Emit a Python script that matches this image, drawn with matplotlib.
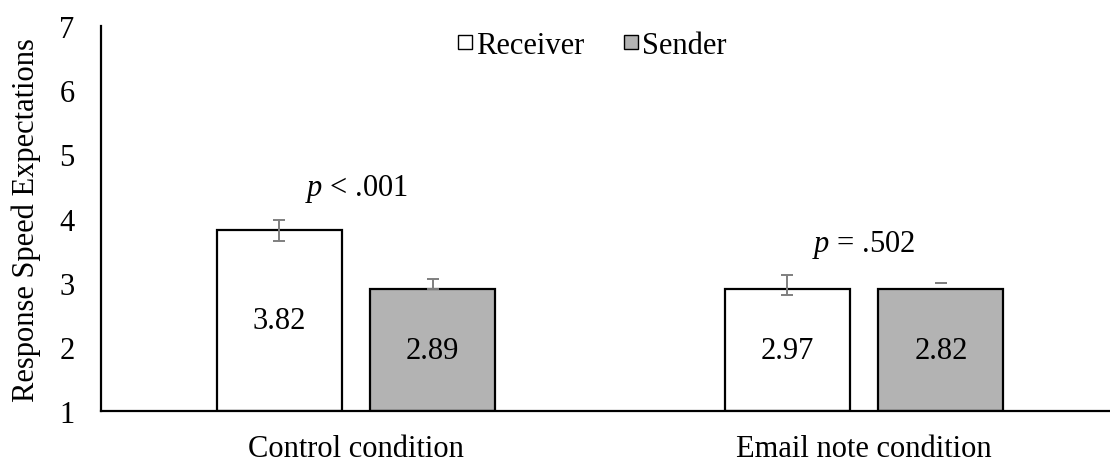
import numpy as np
import matplotlib
matplotlib.use("Agg")
import matplotlib.pyplot as plt
from matplotlib.lines import Line2D

plt.rcParams["font.family"] = ["Liberation Serif", "DejaVu Serif"]
plt.rcParams["mathtext.fontset"] = "custom"
plt.rcParams["mathtext.it"] = "Liberation Serif:italic"
plt.rcParams["mathtext.rm"] = "Liberation Serif"

conditions = ["Control condition", "Email note condition"]
series = ["Receiver", "Sender"]

# bar heights as drawn in the picture, and the printed means
receiver_bar = [3.82, 2.91]
sender_bar = [2.91, 2.91]
receiver_label = ["3.82", "2.97"]
sender_label = ["2.89", "2.82"]

# error bars (centre, lower, upper)
receiver_err_mid = [3.82, 2.97]
receiver_err_lo = [0.16, 0.16]
receiver_err_hi = [0.16, 0.16]
sender_err_mid = [2.91, 3.00]
sender_err_lo = [0.0, 0.0]
sender_err_hi = [0.15, 0.0]

p_texts = [r"$p$ < .001", r"$p$ = .502"]
p_y = [4.47, 3.61]

colors = ["white", "#b3b3b3"]
fs = 22

fig = plt.figure(figsize=(11.1, 4.64), dpi=100)
ax = fig.add_axes([0.091, 0.111, 0.909, 0.831])

x = np.arange(len(conditions))
off = 0.151
w = 0.246

bars_r = ax.bar(x - off, np.array(receiver_bar) - 1, w, bottom=1,
                color=colors[0], edgecolor="black", linewidth=1.6, zorder=2)
bars_s = ax.bar(x + off, np.array(sender_bar) - 1, w, bottom=1,
                color=colors[1], edgecolor="black", linewidth=1.6, zorder=2)

ax.errorbar(x - off, receiver_err_mid, yerr=[receiver_err_lo, receiver_err_hi],
            fmt="none", ecolor="#7f7f7f", elinewidth=1.4, capsize=4,
            capthick=1.4, zorder=3)
ax.errorbar(x + off, sender_err_mid, yerr=[sender_err_lo, sender_err_hi],
            fmt="none", ecolor="#7f7f7f", elinewidth=1.4, capsize=4,
            capthick=1.4, zorder=3)

for b, lab in zip(bars_r, receiver_label):
    ax.text(b.get_x() + b.get_width() / 2, 1 + b.get_height() / 2, lab,
            ha="center", va="center", fontsize=fs, zorder=4)
for b, lab in zip(bars_s, sender_label):
    ax.text(b.get_x() + b.get_width() / 2, 1 + b.get_height() / 2, lab,
            ha="center", va="center", fontsize=fs, zorder=4)

for xi, t, yy in zip(x, p_texts, p_y):
    ax.text(xi, yy, t, ha="center", va="center", fontsize=fs)

ax.set_ylim(1, 7)
ax.set_xlim(-0.502, 1.484)
ax.set_yticks(range(1, 8))
ax.set_xticks(x)
ax.set_xticklabels(conditions)
ax.tick_params(axis="both", length=0, labelsize=fs)
ax.tick_params(axis="y", pad=19)
ax.tick_params(axis="x", pad=16)
ax.set_ylabel("Response Speed Expectations", fontsize=fs, labelpad=13)

for s in ["top", "right"]:
    ax.spines[s].set_visible(False)
for s in ["left", "bottom"]:
    ax.spines[s].set_linewidth(1.6)

handles = [Line2D([], [], linestyle="none", marker="s", markersize=10,
                  markerfacecolor=c, markeredgecolor="black",
                  markeredgewidth=1.0) for c in colors]
ax.legend(handles, series, loc="upper center", bbox_to_anchor=(0.487, 1.058),
          ncol=2, frameon=False, fontsize=fs, handlelength=0.45,
          handletextpad=0.15, columnspacing=1.3)

fig.savefig("out.png", dpi=100)
